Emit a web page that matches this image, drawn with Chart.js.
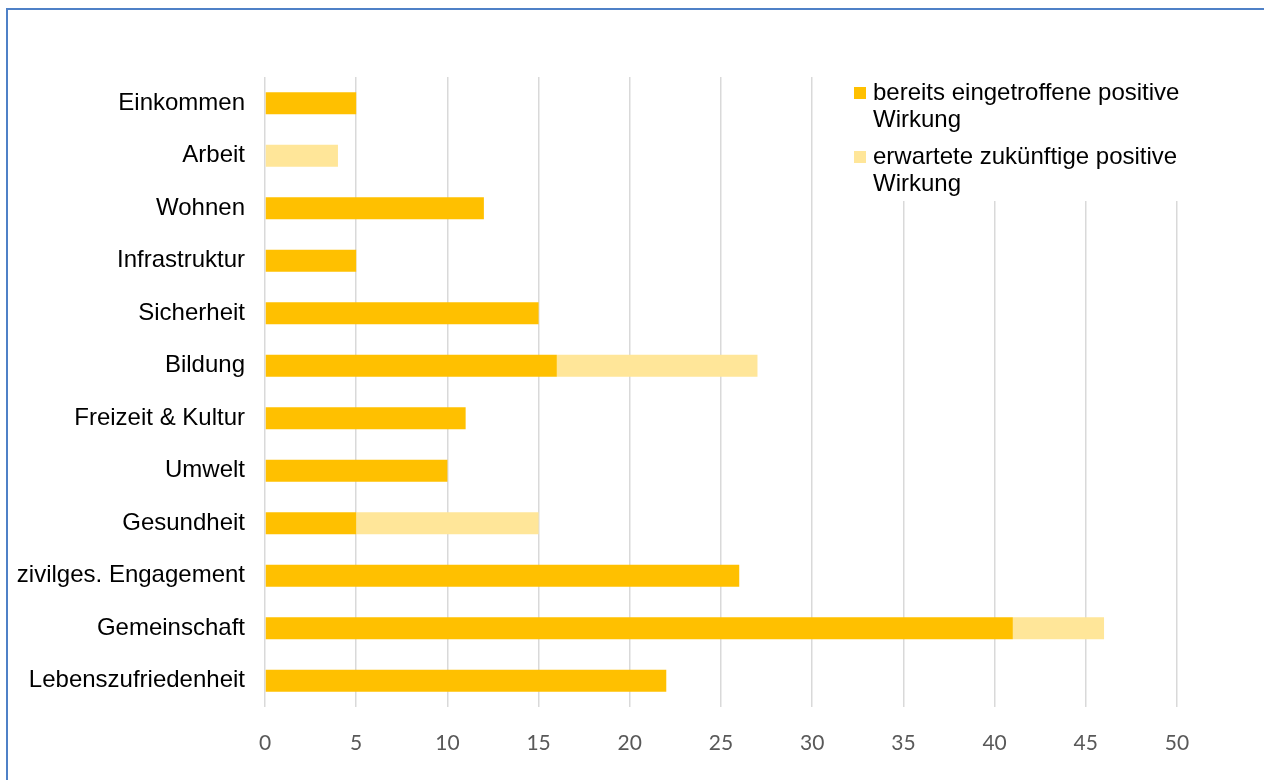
<!DOCTYPE html>
<html>
<head>
<meta charset="utf-8">
<script src="https://cdn.jsdelivr.net/npm/chart.js@4/dist/chart.umd.min.js"></script>
<style>
  html, body { margin: 0; padding: 0; background: #fff; overflow: hidden; }
  #wrap { position: relative; width: 1264px; height: 780px; }
  #frame { position: absolute; left: 6px; top: 8px; width: 1400px; height: 900px; border: 2px solid #4f81c7; box-sizing: border-box; }
  canvas { position: absolute; left: 0; top: 0; }
</style>
</head>
<body>
<div id="wrap">
  <div id="frame"></div>
  <canvas id="c" width="1264" height="780"></canvas>
</div>
<script>
const categories = ["Einkommen", "Arbeit", "Wohnen", "Infrastruktur", "Sicherheit", "Bildung", "Freizeit & Kultur", "Umwelt", "Gesundheit", "zivilges. Engagement", "Gemeinschaft", "Lebenszufriedenheit"];
const seriesNames = ["bereits eingetroffene positive Wirkung", "erwartete zukünftige positive Wirkung"];
const legendLines = [["bereits eingetroffene positive", "Wirkung"], ["erwartete zukünftige positive", "Wirkung"]];
const eingetroffen = [5, 0, 12, 5, 15, 16, 11, 10, 5, 26, 41, 22];
const erwartet = [0, 4, 0, 0, 0, 11, 0, 0, 10, 0, 5, 0];
const colors = ["#FFC000", "#FFE699"];

const legendPlugin = {
  id: 'customLegend',
  afterDraw(chart) {
    const ctx = chart.ctx;
    ctx.save();
    ctx.fillStyle = '#ffffff';
    ctx.fillRect(848, 70, 350, 131);
    ctx.font = '24px "Liberation Sans", Arial, sans-serif';
    ctx.textBaseline = 'middle';
    ctx.textAlign = 'left';
    const starts = [93, 157];
    legendLines.forEach((lines, i) => {
      ctx.fillStyle = colors[i];
      ctx.fillRect(854, starts[i] - 6, 12, 12);
      ctx.fillStyle = '#000';
      lines.forEach((t, j) => ctx.fillText(t, 873, starts[i] + j * 27));
    });
    ctx.restore();
  }
};

new Chart(document.getElementById('c'), {
  type: 'bar',
  data: {
    labels: categories,
    datasets: [
      { label: seriesNames[0], data: eingetroffen, backgroundColor: colors[0], borderWidth: 0, barPercentage: 0.42, categoryPercentage: 1 },
      { label: seriesNames[1], data: erwartet, backgroundColor: colors[1], borderWidth: 0, barPercentage: 0.42, categoryPercentage: 1 }
    ]
  },
  options: {
    indexAxis: 'y',
    responsive: false,
    animation: false,
    devicePixelRatio: 1,
    layout: { padding: { left: 10, top: 77, right: 87, bottom: 13 } },
    plugins: { legend: { display: false }, tooltip: { enabled: false } },
    scales: {
      x: {
        stacked: true,
        min: 0, max: 50,
        ticks: { stepSize: 5, color: '#595959', font: { family: 'Lato, "Open Sans", sans-serif', size: 21 }, padding: 24 },
        grid: { color: '#d9d9d9', lineWidth: 1.5, drawTicks: false },
        border: { display: false },
        afterFit(s) { s.height = 60; }
      },
      y: {
        stacked: true,
        ticks: { color: '#000', font: { family: '"Liberation Sans", Arial, sans-serif', size: 24 }, padding: 20 },
        grid: { display: false, drawTicks: false },
        border: { display: false },
        afterFit(s) { s.width = 255; }
      }
    }
  },
  plugins: [legendPlugin]
});
</script>
</body>
</html>
